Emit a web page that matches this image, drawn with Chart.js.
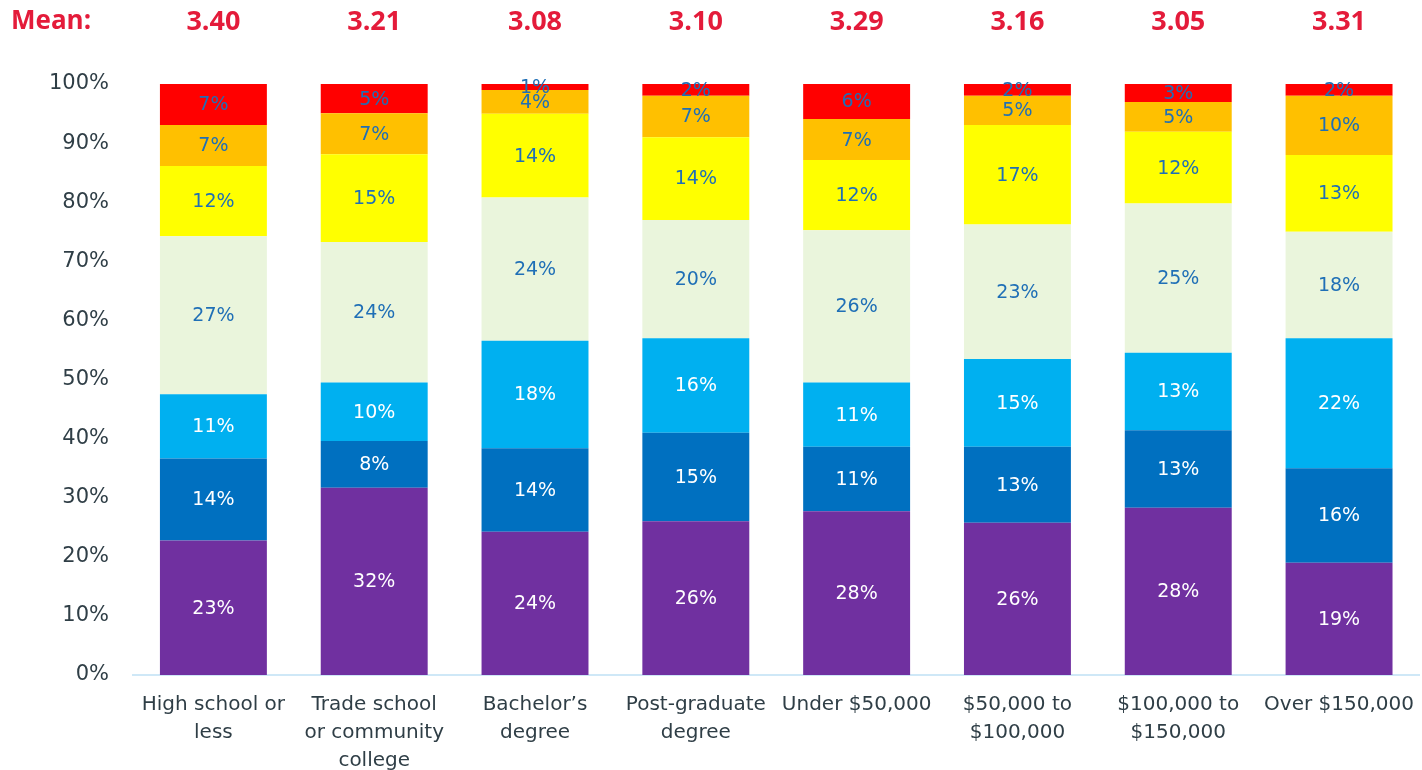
<!DOCTYPE html>
<html>
<head>
<meta charset="utf-8">
<script src="https://cdn.jsdelivr.net/npm/chart.js@4/dist/chart.umd.min.js"></script>
<style>
  html, body { margin: 0; padding: 0; background: #fff; }
  #wrap { width: 1422px; height: 770px; position: relative; }
</style>
</head>
<body>
<div id="wrap"><canvas id="chart" width="1422" height="770"></canvas></div>
<script>
// categories (multi-line labels)
const categories = [
  ["High school or", "less"],
  ["Trade school", "or community", "college"],
  ["Bachelor\u2019s", "degree"],
  ["Post-graduate", "degree"],
  ["Under $50,000"],
  ["$50,000 to", "$100,000"],
  ["$100,000 to", "$150,000"],
  ["Over $150,000"]
];
const means = ["3.40", "3.21", "3.08", "3.10", "3.29", "3.16", "3.05", "3.31"];

// segments, bottom to top (percent as shown)
const seg1 = [23, 32, 24, 26, 28, 26, 28, 19];
const seg2 = [14, 8, 14, 15, 11, 13, 13, 16];
const seg3 = [11, 10, 18, 16, 11, 15, 13, 22];
const seg4 = [27, 24, 24, 20, 26, 23, 25, 18];
const seg5 = [12, 15, 14, 14, 12, 17, 12, 13];
const seg6 = [7, 7, 4, 7, 7, 5, 5, 10];
const seg7 = [7, 5, 1, 2, 6, 2, 3, 2];

const yTicks = [0, 10, 20, 30, 40, 50, 60, 70, 80, 90, 100];

const segs = [seg1, seg2, seg3, seg4, seg5, seg6, seg7];
const colors = ["#7030A0", "#0070C0", "#00B0F0", "#EAF5DC", "#FFFF00", "#FFC000", "#FF0000"];
const labelColors = ["#ffffff", "#ffffff", "#ffffff", "#1F6FB6", "#1F6FB6", "#1F6FB6", "#1F6FB6"];

// bars are 100% stacked, so scale each column to its total
const totals = categories.map((c, i) => segs.reduce((s, arr) => s + arr[i], 0));

const datasets = segs.map((arr, k) => ({
  label: "s" + (k + 1),
  data: arr.map((v, i) => v / totals[i] * 100),
  raw: arr,
  backgroundColor: colors[k],
  borderWidth: 0,
  barPercentage: 0.665,
  categoryPercentage: 1
}));

const segLabels = {
  id: "segLabels",
  afterDatasetsDraw(chart) {
    const ctx = chart.ctx;
    ctx.save();
    ctx.font = "19px 'DejaVu Sans'";
    ctx.textAlign = "center";
    ctx.textBaseline = "middle";
    chart.data.datasets.forEach((ds, k) => {
      const meta = chart.getDatasetMeta(k);
      meta.data.forEach((bar, i) => {
        ctx.fillStyle = labelColors[k];
        ctx.fillText(ds.raw[i] + "%", bar.x, (bar.y + bar.base) / 2 + 1);
      });
    });
    ctx.restore();
  }
};

const meanRow = {
  id: "meanRow",
  afterDraw(chart) {
    const ctx = chart.ctx;
    const x = chart.scales.x;
    ctx.save();
    ctx.fillStyle = "#E41B3A";
    ctx.font = "bold 26px 'Open Sans'";
    ctx.textBaseline = "middle";
    ctx.textAlign = "left";
    ctx.fillText("Mean:", 11, 22);
    ctx.font = "bold 27px 'Open Sans'";
    ctx.textAlign = "center";
    means.forEach((m, i) => {
      ctx.fillText(m, x.getPixelForValue(i), 22);
    });
    ctx.restore();
  }
};

new Chart(document.getElementById("chart"), {
  type: "bar",
  data: { labels: categories, datasets: datasets },
  options: {
    responsive: false,
    animation: false,
    layout: { padding: { top: 84, right: 0, left: 0, bottom: 0 } },
    plugins: {
      legend: { display: false },
      tooltip: { enabled: false }
    },
    scales: {
      x: {
        stacked: true,
        grid: { display: false },
        border: { display: true, color: "#CFE8F7", width: 2 },
        ticks: {
          color: "#2F3E46",
          font: { family: "'DejaVu Sans'", size: 20, lineHeight: 1.4 },
          maxRotation: 0,
          autoSkip: false,
          padding: 8
        },
        afterFit(scale) { scale.height = 95; }
      },
      y: {
        stacked: true,
        min: 0,
        max: 100,
        afterBuildTicks(scale) { scale.ticks = yTicks.map(v => ({ value: v })); },
        grid: { display: false },
        border: { display: false },
        ticks: {
          color: "#2F3E46",
          font: { family: "'DejaVu Sans'", size: 21 },
          padding: 16,
          callback: v => v + "%"
        },
        afterFit(scale) { scale.width = 133; }
      }
    }
  },
  plugins: [segLabels, meanRow]
});
</script>
</body>
</html>
